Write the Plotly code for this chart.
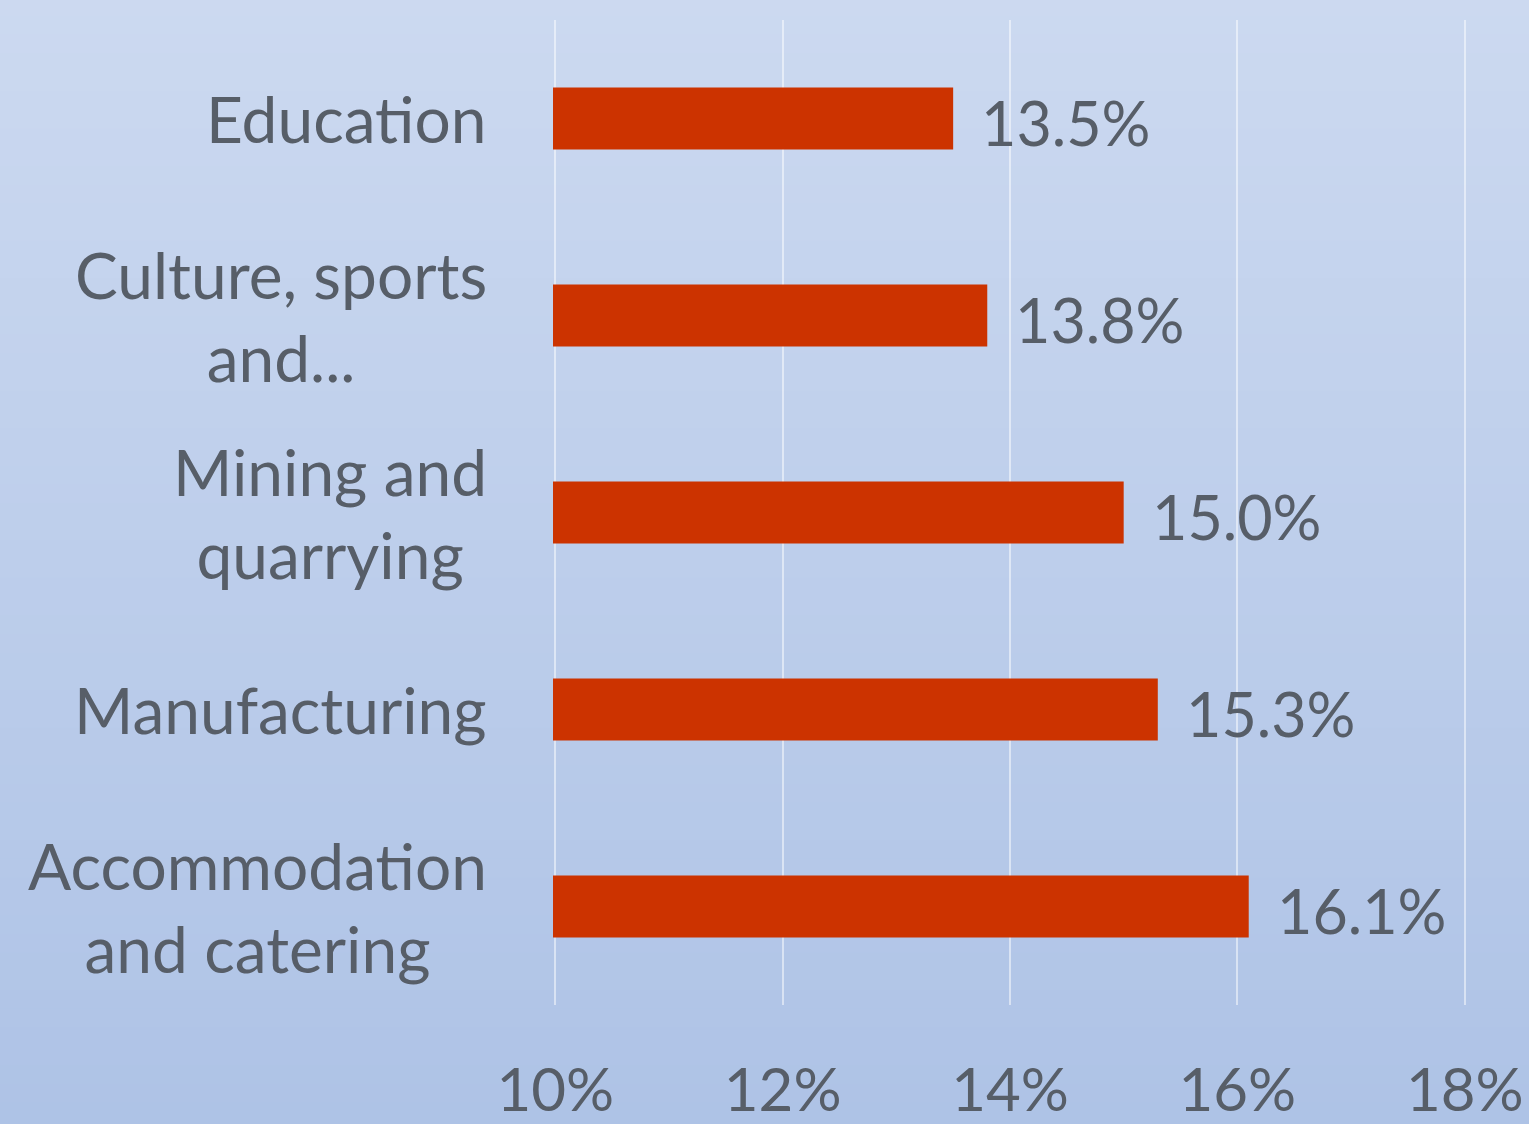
import plotly.graph_objects as go

categories = ["Education", "Culture, sports<br>and...", "Mining and<br>quarrying",
              "Manufacturing", "Accommodation<br>and catering"]
values = [13.5, 13.8, 15.0, 15.3, 16.1]
tick_vals = [10, 12, 14, 16, 18]
tick_text = ["10%", "12%", "14%", "16%", "18%"]

W, H = 1529, 1124
ML, MR, MT, MB = 553, 62, 20, 119
PW, PH = W - ML - MR, H - MT - MB

FONT = "Lato"
TXT = "#575e68"
BAR = "#cc3300"

fig = go.Figure()
fig.add_trace(go.Bar(
    y=categories, x=values, base=0, orientation="h",
    marker=dict(color=BAR, line=dict(width=0)),
    width=0.315, hoverinfo="skip", showlegend=False,
))

# gradient background (style only)
top = (204, 217, 240)
bot = (174, 195, 230)
n = 60
y_lo, y_hi = -MB / PH, 1 + MT / PH
x_lo, x_hi = -ML / PW, 1 + MR / PW
shapes = []
for i in range(n):
    t = i / (n - 1)
    c = tuple(round(top[k] + (bot[k] - top[k]) * t) for k in range(3))
    y1 = y_hi - (y_hi - y_lo) * i / n
    y0 = y_hi - (y_hi - y_lo) * (i + 1) / n
    shapes.append(dict(type="rect", xref="paper", yref="paper", x0=x_lo - 0.01, x1=x_hi + 0.01,
                       y0=y0 - 0.003, y1=y1 + 0.003, fillcolor="rgb(%d,%d,%d)" % c,
                       line=dict(width=0), layer="below"))

annotations = []
for cat in categories:
    annotations.append(dict(xref="paper", yref="y", x=-0.070, y=cat, text=cat,
                            xanchor="right", yanchor="middle", align="center",
                            showarrow=False, font=dict(family=FONT, size=64, color=TXT)))
for cat, v in zip(categories, values):
    annotations.append(dict(xref="x", yref="y", x=v, y=cat, text=f"{v:.1f}%",
                            xanchor="left", yanchor="middle", xshift=26, yshift=-4,
                            showarrow=False, font=dict(family=FONT, size=61, color=TXT)))

fig.update_layout(
    width=W, height=H,
    margin=dict(l=ML, r=MR, t=MT, b=MB, autoexpand=False),
    paper_bgcolor="rgb(%d,%d,%d)" % bot,
    plot_bgcolor="rgba(0,0,0,0)",
    shapes=shapes,
    annotations=annotations,
    xaxis=dict(range=[9.98, 18.02], tickvals=tick_vals, ticktext=tick_text,
               showgrid=True, gridcolor="rgba(255,255,255,0.5)", gridwidth=1.5,
               zeroline=False, showline=False, ticks="outside", ticklen=33,
               tickcolor="rgba(0,0,0,0)", automargin=False,
               tickfont=dict(family=FONT, size=60, color=TXT)),
    yaxis=dict(autorange="reversed", showticklabels=False, showgrid=False,
               zeroline=False, showline=False, automargin=False),
)

fig.write_html("out.html", config={"displayModeBar": False},
               post_script="document.body.style.margin='0px';document.body.style.overflow='hidden';")
